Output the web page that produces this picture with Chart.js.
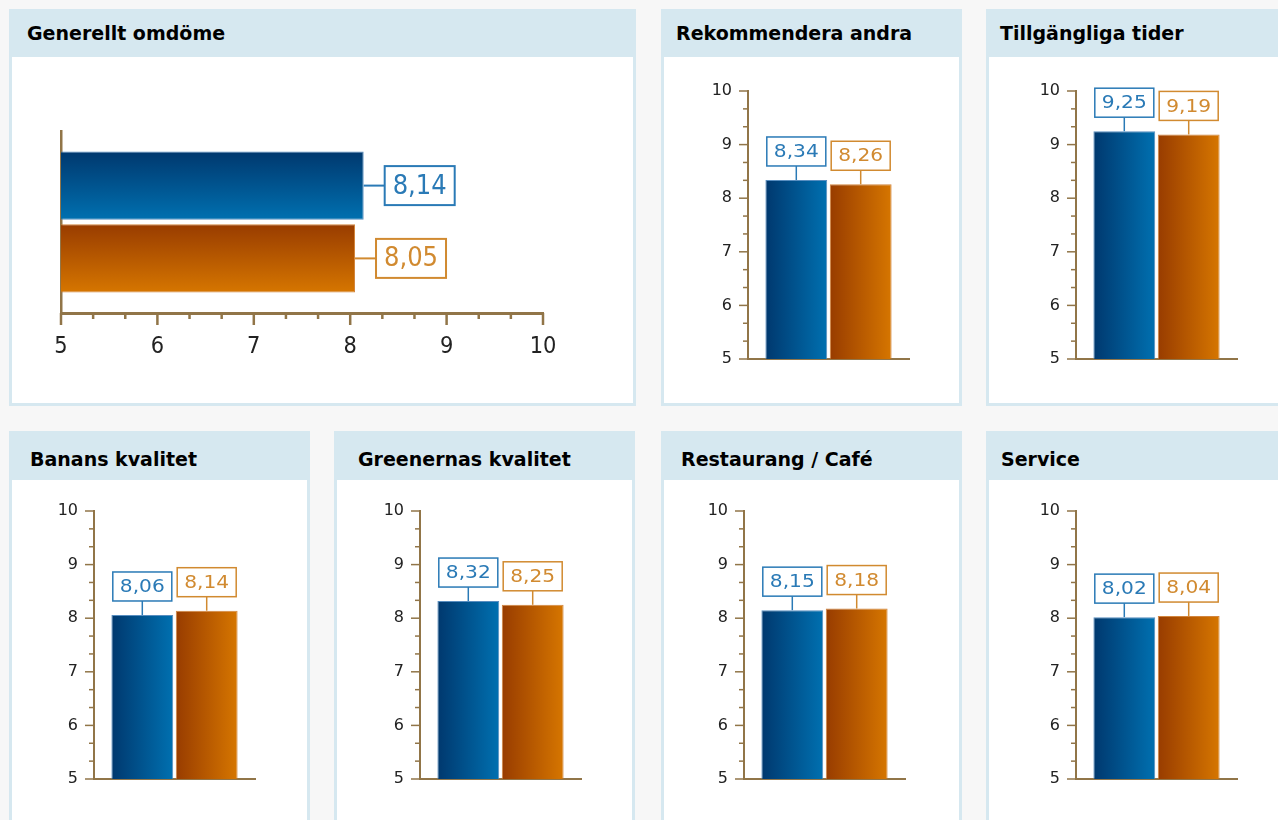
<!DOCTYPE html>
<html>
<head>
<meta charset="utf-8">
<script src="https://cdn.jsdelivr.net/npm/chart.js@4.4.0/dist/chart.umd.min.js"></script>
<style>
  html, body { margin: 0; padding: 0; }
  body { width: 1278px; height: 820px; background: #f7f7f7; overflow: hidden; position: relative;
         font-family: 'DejaVu Sans', Verdana, sans-serif; }
  .panel { position: absolute; background: #d6e8f0; height: 397px; }
  .panel h2 { position: absolute; margin: 0; font-size: 19px; font-weight: bold; color: #000;
              white-space: nowrap; line-height: 1; }
  .panel .plot { position: absolute; left: 3px; background: #fff; }
  .panel canvas { position: absolute; left: 0; top: 0; }
</style>
</head>
<body>
<script>
// data
const titles = ['Generellt omdöme', 'Rekommendera andra', 'Tillgängliga tider', 'Banans kvalitet',
                'Greenernas kvalitet', 'Restaurang / Café', 'Service'];
const blueValues = [8.14, 8.34, 9.25, 8.06, 8.32, 8.15, 8.02];
const orangeValues = [8.05, 8.26, 9.19, 8.14, 8.25, 8.18, 8.04];
const tickValues = [5, 6, 7, 8, 9, 10];

const axisColor = '#917548';
const labelColors = ['#2a7ab6', '#d18a30'];
const gradColors = [['#00386e', '#0070b0'], ['#983c00', '#d67600']];
const barEdges = ['rgba(70,130,185,0.9)', 'rgba(205,120,40,0.9)'];

// panel placement (page pixels) and plot area inside the white body
const panels = [
  { x: 9,   y: 9,   w: 627, tx: 18, ty: 15, head: 48, area: { l: 49, t: 74, r: 531, b: 256 }, horizontal: true },
  { x: 661, y: 9,   w: 301, tx: 15, ty: 15, head: 48, area: { l: 84, t: 34, r: 245, b: 302 } },
  { x: 986, y: 9,   w: 301, tx: 14, ty: 15, head: 48, area: { l: 87, t: 34, r: 248, b: 302 } },
  { x: 9,   y: 431, w: 301, tx: 21, ty: 19, head: 49, area: { l: 82, t: 31, r: 243, b: 299 } },
  { x: 334, y: 431, w: 301, tx: 24, ty: 19, head: 49, area: { l: 83, t: 31, r: 244, b: 299 } },
  { x: 661, y: 431, w: 301, tx: 20, ty: 19, head: 49, area: { l: 80, t: 31, r: 241, b: 299 } },
  { x: 986, y: 431, w: 301, tx: 15, ty: 19, head: 49, area: { l: 87, t: 31, r: 248, b: 299 } }
];

const fmt = v => v.toFixed(2).replace('.', ',');

function drawText(ctx, text, x, y, size, sx, sy, color, align) {
  ctx.save();
  ctx.translate(x, y);
  ctx.scale(sx, sy);
  ctx.font = size + "px 'DejaVu Sans', Verdana, sans-serif";
  ctx.fillStyle = color;
  ctx.textAlign = align || 'center';
  ctx.textBaseline = 'middle';
  ctx.fillText(text, 0, 0);
  ctx.restore();
}

const barGradient = {
  id: 'barGradient',
  beforeDatasetsDraw(chart) {
    const ctx = chart.ctx;
    const horiz = chart.options.indexAxis === 'y';
    chart.data.datasets.forEach((ds, i) => {
      chart.getDatasetMeta(i).data.forEach(el => {
        const p = el.getProps(['x', 'y', 'width', 'height'], true);
        const g = horiz
          ? ctx.createLinearGradient(0, p.y - p.height / 2, 0, p.y + p.height / 2)
          : ctx.createLinearGradient(p.x - p.width / 2, 0, p.x + p.width / 2, 0);
        g.addColorStop(0, gradColors[i][0]);
        g.addColorStop(1, gradColors[i][1]);
        el.options = Object.assign({}, el.options, { backgroundColor: g });
      });
    });
  }
};

const axisDecor = {
  id: 'axisDecor',
  afterDraw(chart) {
    const ctx = chart.ctx;
    const a = chart.chartArea;
    const horiz = chart.options.indexAxis === 'y';
    const s = horiz ? chart.scales.x : chart.scales.y;
    const lo = tickValues[0], hi = tickValues[tickValues.length - 1];
    ctx.save();
    ctx.strokeStyle = axisColor;
    ctx.lineWidth = horiz ? 2.5 : 1.5;
    for (let k = 0; k <= (hi - lo) * 3; k++) {
      const p = s.getPixelForValue(lo + k / 3);
      const major = k % 3 === 0;
      ctx.beginPath();
      if (horiz) {
        const len = major ? 12 : 6;
        ctx.moveTo(p, a.bottom); ctx.lineTo(p, a.bottom + len);
      } else {
        const len = major ? 9 : 5;
        ctx.moveTo(a.left - len, p); ctx.lineTo(a.left, p);
      }
      ctx.stroke();
    }
    if (horiz) {
      s.ticks.forEach(t => {
        drawText(ctx, String(t.value), s.getPixelForValue(t.value), a.bottom + 34, 15, 1.4, 1.55, '#222');
      });
    }
    ctx.restore();
  }
};

const valueLabels = {
  id: 'valueLabels',
  afterDatasetsDraw(chart) {
    const ctx = chart.ctx;
    const horiz = chart.options.indexAxis === 'y';
    chart.data.datasets.forEach((ds, i) => {
      const el = chart.getDatasetMeta(i).data[0];
      const p = el.getProps(['x', 'y'], true);
      const txt = fmt(ds.data[0]);
      ctx.save();
      ctx.strokeStyle = labelColors[i];
      ctx.fillStyle = '#fff';
      if (horiz) {
        const bw = 70, bh = 39, bx = p.x + 21, by = p.y - bh / 2;
        ctx.lineWidth = 2;
        ctx.beginPath(); ctx.moveTo(p.x, p.y); ctx.lineTo(bx, p.y); ctx.stroke();
        ctx.fillRect(bx, by, bw, bh);
        ctx.strokeRect(bx, by, bw, bh);
        drawText(ctx, txt, bx + bw / 2, p.y + 1, 18, 1.35, 1.5, labelColors[i]);
      } else {
        const bw = 59, bh = 29, bx = p.x - bw / 2, by = p.y - 14 - bh;
        ctx.lineWidth = 1.5;
        ctx.beginPath(); ctx.moveTo(p.x, p.y - 14); ctx.lineTo(p.x, p.y); ctx.stroke();
        ctx.fillRect(bx, by, bw, bh);
        ctx.strokeRect(bx, by, bw, bh);
        drawText(ctx, txt, p.x, by + bh / 2 + 1, 18, 1.12, 1, labelColors[i]);
      }
      ctx.restore();
    });
  }
};

Chart.defaults.font.family = "'DejaVu Sans', Verdana, sans-serif";

panels.forEach((pl, idx) => {
  const panel = document.createElement('div');
  panel.className = 'panel';
  panel.style.left = pl.x + 'px';
  panel.style.top = pl.y + 'px';
  panel.style.width = pl.w + 'px';
  const h2 = document.createElement('h2');
  h2.textContent = titles[idx];
  h2.style.left = pl.tx + 'px';
  h2.style.top = pl.ty + 'px';
  panel.appendChild(h2);

  const plotW = pl.w - 6, plotH = 397 - pl.head - 3;
  const plot = document.createElement('div');
  plot.className = 'plot';
  plot.style.top = pl.head + 'px';
  plot.style.width = plotW + 'px';
  plot.style.height = plotH + 'px';
  const canvas = document.createElement('canvas');
  canvas.width = plotW;
  canvas.height = plotH;
  plot.appendChild(canvas);
  panel.appendChild(plot);
  document.body.appendChild(panel);

  const a = pl.area;
  const horiz = !!pl.horizontal;
  const valueScale = {
    min: tickValues[0],
    max: tickValues[tickValues.length - 1],
    grid: { display: false, drawTicks: false },
    border: { display: true, color: axisColor, width: horiz ? 3 : 2 },
    ticks: {
      display: !horiz,
      stepSize: 1,
      padding: 16,
      color: '#222',
      font: { size: 16 }
    }
  };
  const catScale = {
    grid: { display: false, drawTicks: false },
    border: { display: true, color: axisColor, width: horiz ? 2.5 : 2 },
    ticks: { display: false }
  };
  const fitLeft = s => { s.width = a.l; };
  const fitZero = s => { s.height = 0; };

  new Chart(canvas, {
    type: 'bar',
    data: {
      labels: [titles[idx]],
      datasets: [
        { data: [blueValues[idx]], borderColor: barEdges[0], borderWidth: 1 },
        { data: [orangeValues[idx]], borderColor: barEdges[1], borderWidth: 1 }
      ]
    },
    options: {
      indexAxis: horiz ? 'y' : 'x',
      responsive: false,
      animation: false,
      layout: { padding: { left: 0, top: a.t, right: plotW - a.r, bottom: plotH - a.b } },
      datasets: { bar: { categoryPercentage: 0.8, barPercentage: horiz ? 0.94 : 0.96 } },
      plugins: { legend: { display: false }, tooltip: { enabled: false } },
      scales: horiz
        ? { y: Object.assign({}, catScale, { afterFit: fitLeft }),
            x: Object.assign({}, valueScale, { afterFit: fitZero }) }
        : { x: Object.assign({}, catScale, { afterFit: fitZero }),
            y: Object.assign({}, valueScale, { afterFit: fitLeft }) }
    },
    plugins: [barGradient, axisDecor, valueLabels]
  });
});
</script>
</body>
</html>
